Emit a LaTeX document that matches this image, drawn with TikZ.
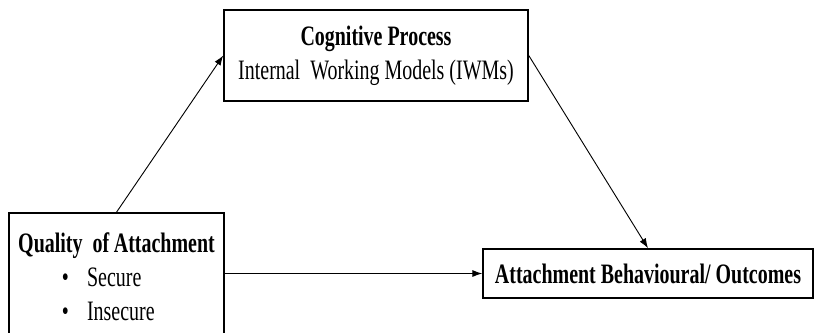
\documentclass[tikz,border=0pt]{standalone}
\usepackage{fontspec}
\setmainfont[FakeStretch=0.71]{Liberation Serif}
\usepackage{tikz}
\usetikzlibrary{arrows,arrows.meta,shapes,positioning}

\begin{document}
\begin{tikzpicture}
\useasboundingbox (0,0) rectangle (20.35,8.3);
\tikzset{box/.style = {draw,line width=1.1pt,inner sep=0pt,align=center,font=\fontsize{20}{24}\selectfont}}
\tikzset{edge/.style = {-{Latex[length=7pt,width=5pt]},line width=.65pt}}
%cognitive process box
\node[box,minimum width=7.6cm,minimum height=2.275cm] (cog) at (9.4,6.9125) {\textbf{Cognitive Process}\\Internal\ \ Working Models (IWMs)};
%quality of attachment box, runs off the bottom
\node[box,minimum width=5.375cm,minimum height=3.175cm,align=left] (qual) at (2.9125,1.3875) {\textbf{Quality\ \ of\,Attachment}\\\hspace*{31pt}\textbullet\hspace{13pt}Secure\\\hspace*{31pt}\textbullet\hspace{13pt}Insecure};
%outcomes box
\node[box,minimum width=8.25cm,minimum height=1.225cm] (out) at (16.2,1.4625) {\textbf{Attachment Behavioural/ Outcomes}};
%arrows
\draw[edge] (qual.north) -- (cog.west);
\draw[edge] (cog.east) -- (out.north);
\draw[edge] (qual.east |- out.west) -- (out.west);
\end{tikzpicture}
\end{document}
